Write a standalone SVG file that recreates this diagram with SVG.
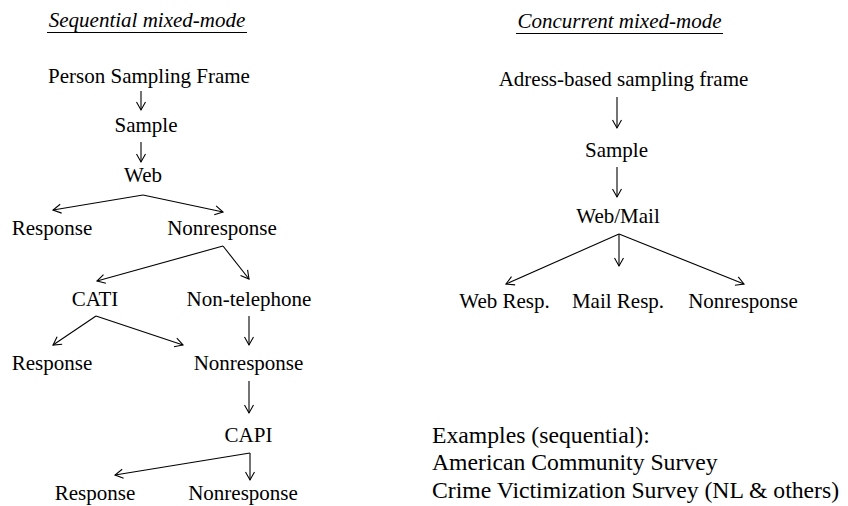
<svg xmlns="http://www.w3.org/2000/svg" width="848" height="506" viewBox="0 0 848 506">
  <defs>
    <!-- open V arrowhead shared by every connector -->
    <marker id="arrow" markerUnits="userSpaceOnUse" markerWidth="12" markerHeight="12" refX="0" refY="0" viewBox="-10 -6 12 12" orient="auto" overflow="visible">
      <path d="M-8,-4.5 L0,0 L-8,4.5" fill="none" stroke="#000" stroke-width="1.1"/>
    </marker>
  </defs>
  <style>
    text { font-family: "Liberation Serif", "Times New Roman", serif; font-size: 21px; fill: #000; }
    .label { text-anchor: middle; }
    .title { text-anchor: middle; font-style: italic; }
    .list { font-size: 23.7px; }
    .rule { stroke: #000; stroke-width: 1; }
    .link { stroke: #000; stroke-width: 1.1; fill: none; marker-end: url(#arrow); }
  </style>
  <rect width="848" height="506" fill="#fff"/>

  <!-- Headings -->
  <g id="heading-sequential">
    <text class="title" x="147" y="27">Sequential mixed-mode</text>
    <line class="rule" x1="47" y1="32.5" x2="247" y2="32.5"/>
  </g>
  <g id="heading-concurrent">
    <text class="title" x="619.5" y="28">Concurrent mixed-mode</text>
    <line class="rule" x1="516" y1="33.5" x2="723" y2="33.5"/>
  </g>

  <!-- Sequential design nodes -->
  <g id="seq-frame"><text class="label" x="149" y="83">Person Sampling Frame</text></g>
  <g id="seq-sample"><text class="label" x="146" y="132">Sample</text></g>
  <g id="seq-web"><text class="label" x="143" y="182">Web</text></g>
  <g id="seq-web-response"><text class="label" x="52" y="235">Response</text></g>
  <g id="seq-web-nonresponse"><text class="label" x="222" y="235">Nonresponse</text></g>
  <g id="seq-cati"><text class="label" x="95" y="306">CATI</text></g>
  <g id="seq-nontelephone"><text class="label" x="249" y="306">Non-telephone</text></g>
  <g id="seq-cati-response"><text class="label" x="52" y="370">Response</text></g>
  <g id="seq-cati-nonresponse"><text class="label" x="248.5" y="370">Nonresponse</text></g>
  <g id="seq-capi"><text class="label" x="248.5" y="442">CAPI</text></g>
  <g id="seq-capi-response"><text class="label" x="95" y="500">Response</text></g>
  <g id="seq-capi-nonresponse"><text class="label" x="243" y="500">Nonresponse</text></g>

  <!-- Concurrent design nodes -->
  <g id="con-frame"><text class="label" x="623.5" y="86">Adress-based sampling frame</text></g>
  <g id="con-sample"><text class="label" x="616.5" y="157">Sample</text></g>
  <g id="con-webmail"><text class="label" x="618" y="223">Web/Mail</text></g>
  <g id="con-web-resp"><text class="label" x="504.5" y="308">Web Resp.</text></g>
  <g id="con-mail-resp"><text class="label" x="618" y="308">Mail Resp.</text></g>
  <g id="con-nonresponse"><text class="label" x="743" y="308">Nonresponse</text></g>

  <!-- Examples list -->
  <g id="examples">
    <text class="list" x="432" y="443">Examples (sequential):</text>
    <text class="list" x="432" y="470">American Community Survey</text>
    <text class="list" x="432" y="498">Crime Victimization Survey (NL &amp; others)</text>
  </g>

  <!-- Connectors -->
  <g id="connectors">
    <line class="link" x1="141" y1="91" x2="141" y2="110"/>
    <line class="link" x1="141" y1="142" x2="141" y2="162"/>
    <line class="link" x1="143" y1="195" x2="53" y2="210"/>
    <line class="link" x1="143" y1="195" x2="223" y2="212"/>
    <line class="link" x1="223" y1="246" x2="97" y2="281"/>
    <line class="link" x1="223" y1="246" x2="249" y2="279"/>
    <line class="link" x1="96" y1="316" x2="53" y2="345"/>
    <line class="link" x1="96" y1="316" x2="183" y2="345"/>
    <line class="link" x1="249" y1="316" x2="249" y2="345"/>
    <line class="link" x1="249" y1="381" x2="249" y2="413"/>
    <line class="link" x1="250" y1="453" x2="115" y2="475"/>
    <line class="link" x1="250" y1="453" x2="250" y2="480"/>

    <line class="link" x1="617" y1="97" x2="617" y2="128"/>
    <line class="link" x1="617" y1="167" x2="617" y2="197"/>
    <line class="link" x1="619" y1="234" x2="506" y2="284"/>
    <line class="link" x1="619" y1="234" x2="619" y2="266"/>
    <line class="link" x1="619" y1="234" x2="744" y2="284"/>
  </g>
</svg>
